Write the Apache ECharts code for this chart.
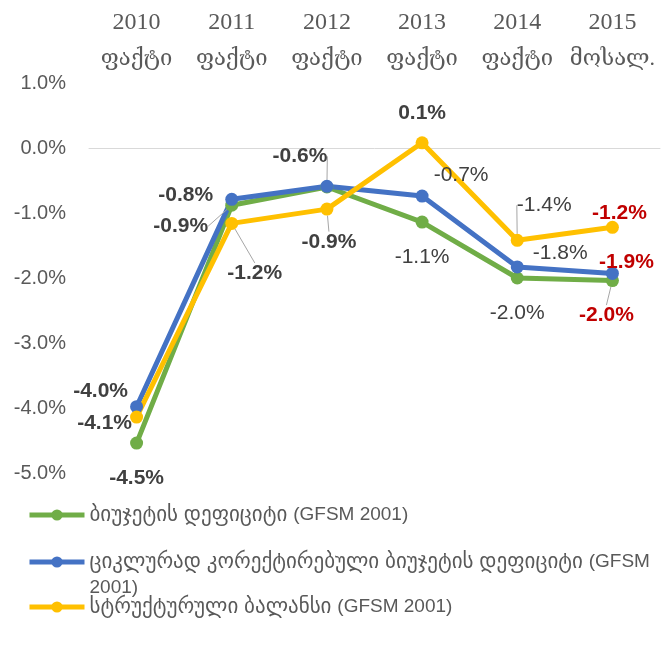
<!DOCTYPE html>
<html><head><meta charset="utf-8">
<script src="https://cdn.jsdelivr.net/npm/echarts@6/dist/echarts.min.js"></script>
<style>html,body{margin:0;padding:0;background:#fff}#c{width:669px;height:652px}</style>
</head><body><div id="c"></div><script>
// ---- data ----
const years = ['2010', '2011', '2012', '2013', '2014', '2015'];
const statusLabels = ['ფაქტი', 'ფაქტი', 'ფაქტი', 'ფაქტი', 'ფაქტი', 'მოსალ.'];
const seriesNames = [
  'ბიუჯეტის დეფიციტი (GFSM 2001)',
  'ციკლურად კორექტირებული ბიუჯეტის დეფიციტი (GFSM 2001)',
  'სტრუქტურული ბალანსი (GFSM 2001)'
];
const budgetDeficit = [-4.54, -0.88, -0.60, -1.14, -2.00, -2.04];
const cyclicallyAdjusted = [-3.98, -0.79, -0.59, -0.74, -1.83, -1.93];
const structuralBalance = [-4.14, -1.16, -0.94, 0.08, -1.42, -1.22];
const yMin = -5, yMax = 1, yStep = 1;

// ---- style (not data) ----
const colors = ['#70AD47', '#4472C4', '#FFC000'];
const labelOffsets = [
  [[0, 35], [-51, 21], null, [0, 35], [0, 35], [-6, 35]],
  [[-36, -15], [-46, -4], [-27, -30], [39, -21], [43, -14], [14, -11]],
  [[-32, 6], [23, 50], [2, 33], [0, -30], [27, -35], [7, -14]]
];
const labelLines = [[0, 1, 0, 0, 0, 1], [0, 0, 1, 0, 0, 0], [0, 1, 1, 0, 1, 0]];
const labelBold = [[1, 1, 1, 0, 0, 1], [1, 1, 1, 0, 0, 1], [1, 1, 1, 1, 0, 1]];

const categories = years.map((y, i) => y + '\n' + statusLabels[i]);
const allValues = [budgetDeficit, cyclicallyAdjusted, structuralBalance];
const sansFont = "'Liberation Sans','DejaVu Sans',sans-serif";
const serifFont = "'Liberation Serif','DejaVu Serif',serif";

function buildData(values, s) {
  return values.map((v, i) => ({
    value: v,
    label: {
      show: labelOffsets[s][i] !== null,
      fontWeight: labelBold[s][i] ? 'bold' : 'normal',
      color: i === 5 ? '#C00000' : '#404040'
    },
    labelLine: { show: !!labelLines[s][i] }
  }));
}

const series = allValues.map((vals, s) => ({
  name: seriesNames[s],
  type: 'line',
  data: buildData(vals, s),
  xAxisIndex: 0,
  symbol: 'circle',
  symbolSize: 13,
  color: colors[s],
  lineStyle: { width: 5, color: colors[s] },
  itemStyle: { color: colors[s] },
  z: 2,
  label: {
    show: true,
    position: 'inside',
    fontFamily: sansFont,
    fontSize: 21,
    formatter: p => p.value.toFixed(1) + '%'
  },
  labelLine: { show: false, lineStyle: { color: '#A6A6A6', width: 1 }, smooth: false },
  labelLayout: function (params) {
    const o = labelOffsets[s][params.dataIndex];
    return o ? { dx: o[0], dy: o[1] } : {};
  }
}));

function legendRich(name, wrap) {
  const i = name.indexOf('(');
  const geo = name.slice(0, i);
  let lat = name.slice(i);
  if (wrap) lat = lat.replace(' ', '}\n{l|');
  return (wrap ? '\n' : '') + '{g|' + geo + '}{l|' + lat + '}';
}

function legendFor(idx, top, wrap) {
  return {
    data: [seriesNames[idx]],
    left: 27,
    top: top,
    padding: 0,
    itemWidth: 55,
    itemHeight: 14,
    selectedMode: false,
    lineStyle: { width: 5 },
    formatter: n => legendRich(n, wrap),
    textStyle: {
      fontFamily: sansFont, fontSize: 19, color: '#595959', lineHeight: 26,
      rich: {
        g: { fontFamily: sansFont, fontSize: 21, color: '#595959', lineHeight: 26 },
        l: { fontFamily: sansFont, fontSize: 19, color: '#595959', lineHeight: 26 }
      }
    }
  };
}

const chart = echarts.init(document.getElementById('c'), null, { renderer: 'canvas' });
chart.setOption({
  animation: false,
  backgroundColor: '#ffffff',
  grid: { left: 89, right: 9, top: 83, bottom: 179, containLabel: false },
  xAxis: [
    {
      type: 'category', data: categories, position: 'top', boundaryGap: true,
      axisLine: { show: false, onZero: false }, axisTick: { show: false },
      axisLabel: {
        interval: 0, margin: 6, color: '#595959',
        formatter: v => { const p = v.split('\n'); return '{y|' + p[0] + '}\n{s|' + p[1] + '}'; },
        rich: {
          y: { fontFamily: serifFont, fontSize: 24, color: '#595959', lineHeight: 36 },
          s: { fontFamily: serifFont, fontSize: 22, color: '#595959', lineHeight: 36 }
        }
      }
    },
    {
      type: 'category', data: categories, position: 'bottom', boundaryGap: true,
      axisLine: { show: true, onZero: true, onZeroAxisIndex: 0, lineStyle: { color: '#D9D9D9', width: 1 } },
      axisTick: { show: false }, axisLabel: { show: false }
    }
  ],
  yAxis: {
    type: 'value', min: yMin, max: yMax, interval: yStep,
    axisLine: { show: false }, axisTick: { show: false }, splitLine: { show: false },
    axisLabel: {
      margin: 23, fontFamily: sansFont, fontSize: 20, color: '#595959',
      formatter: v => v.toFixed(1) + '%'
    }
  },
  legend: [
    legendFor(0, 502, false),
    legendFor(1, 523, true),
    legendFor(2, 594, false)
  ],
  series: series
});
</script></body></html>
